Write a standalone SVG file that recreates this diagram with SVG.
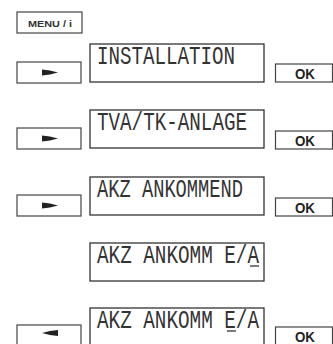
<svg xmlns="http://www.w3.org/2000/svg" width="333" height="344" viewBox="0 0 333 344">
<style>
.bg{fill:#fff}
.key{fill:#fff;stroke:#444;stroke-width:1.2}
.lcd{fill:#fff;stroke:#333;stroke-width:1.3}
.lcdt{font-family:"Liberation Mono","DejaVu Sans Mono",monospace;font-size:25px;fill:#333}
.okt{font-family:"Liberation Sans","DejaVu Sans",sans-serif;font-size:14px;font-weight:bold;fill:#222}
.mt{font-family:"Liberation Sans","DejaVu Sans",sans-serif;font-size:9.5px;font-weight:bold;fill:#333}
.arr{fill:#222}
.cur{stroke:#333;stroke-width:1.3}
</style>
<rect class="bg" x="0" y="0" width="333" height="344"/>
<g id="menu">
<rect class="key" x="17" y="12" width="65" height="21"/>
<text class="mt" x="28" y="26.5" textLength="44" lengthAdjust="spacingAndGlyphs">MENU / i</text>
</g>
<g id="row1">
<rect class="key" x="17" y="62" width="64" height="21"/>
<path class="arr" d="M42 69.5 L50 70.5 L58 72.5 L50 74.5 L42 75.5 Z"/>
<rect class="lcd" x="90" y="44" width="174" height="38"/>
<text class="lcdt" x="97" y="63.5" textLength="138" lengthAdjust="spacingAndGlyphs">INSTALLATION</text>
<rect class="key" x="275.5" y="64" width="57" height="18"/>
<text class="okt" x="295" y="79" textLength="20" lengthAdjust="spacingAndGlyphs">OK</text>
</g>
<g id="row2">
<rect class="key" x="17" y="128" width="64" height="21"/>
<path class="arr" d="M42 135.5 L50 136.5 L58 138.5 L50 140.5 L42 141.5 Z"/>
<rect class="lcd" x="90" y="110" width="174" height="38"/>
<text class="lcdt" x="97" y="129.5" textLength="150" lengthAdjust="spacingAndGlyphs">TVA/TK-ANLAGE</text>
<rect class="key" x="275.5" y="131" width="57" height="18"/>
<text class="okt" x="295" y="146" textLength="20" lengthAdjust="spacingAndGlyphs">OK</text>
</g>
<g id="row3">
<rect class="key" x="17" y="195" width="64" height="21"/>
<path class="arr" d="M42 202.5 L50 203.5 L58 205.5 L50 207.5 L42 208.5 Z"/>
<rect class="lcd" x="90" y="177" width="174" height="38"/>
<text class="lcdt" x="97" y="196.5" textLength="146" lengthAdjust="spacingAndGlyphs">AKZ ANKOMMEND</text>
<rect class="key" x="275.5" y="198" width="57" height="18"/>
<text class="okt" x="295" y="213" textLength="20" lengthAdjust="spacingAndGlyphs">OK</text>
</g>
<g id="row4">
<rect class="lcd" x="90" y="243" width="174" height="38"/>
<text class="lcdt" x="97" y="262.5" textLength="162" lengthAdjust="spacingAndGlyphs">AKZ ANKOMM E/A</text>
<line class="cur" x1="250" y1="266" x2="259" y2="266"/>
</g>
<g id="row5">
<rect class="key" x="17" y="325" width="64" height="21"/>
<path class="arr" d="M58 330 L50 331 L42 333 L50 335 L58 336 Z"/>
<rect class="lcd" x="90" y="308" width="174" height="40"/>
<text class="lcdt" x="97" y="327.5" textLength="162" lengthAdjust="spacingAndGlyphs">AKZ ANKOMM E/A</text>
<line class="cur" x1="227" y1="331" x2="236" y2="331"/>
<rect class="key" x="275.5" y="327" width="57" height="18"/>
<text class="okt" x="295" y="342" textLength="20" lengthAdjust="spacingAndGlyphs">OK</text>
</g>
<g id="connectors"></g>
</svg>
